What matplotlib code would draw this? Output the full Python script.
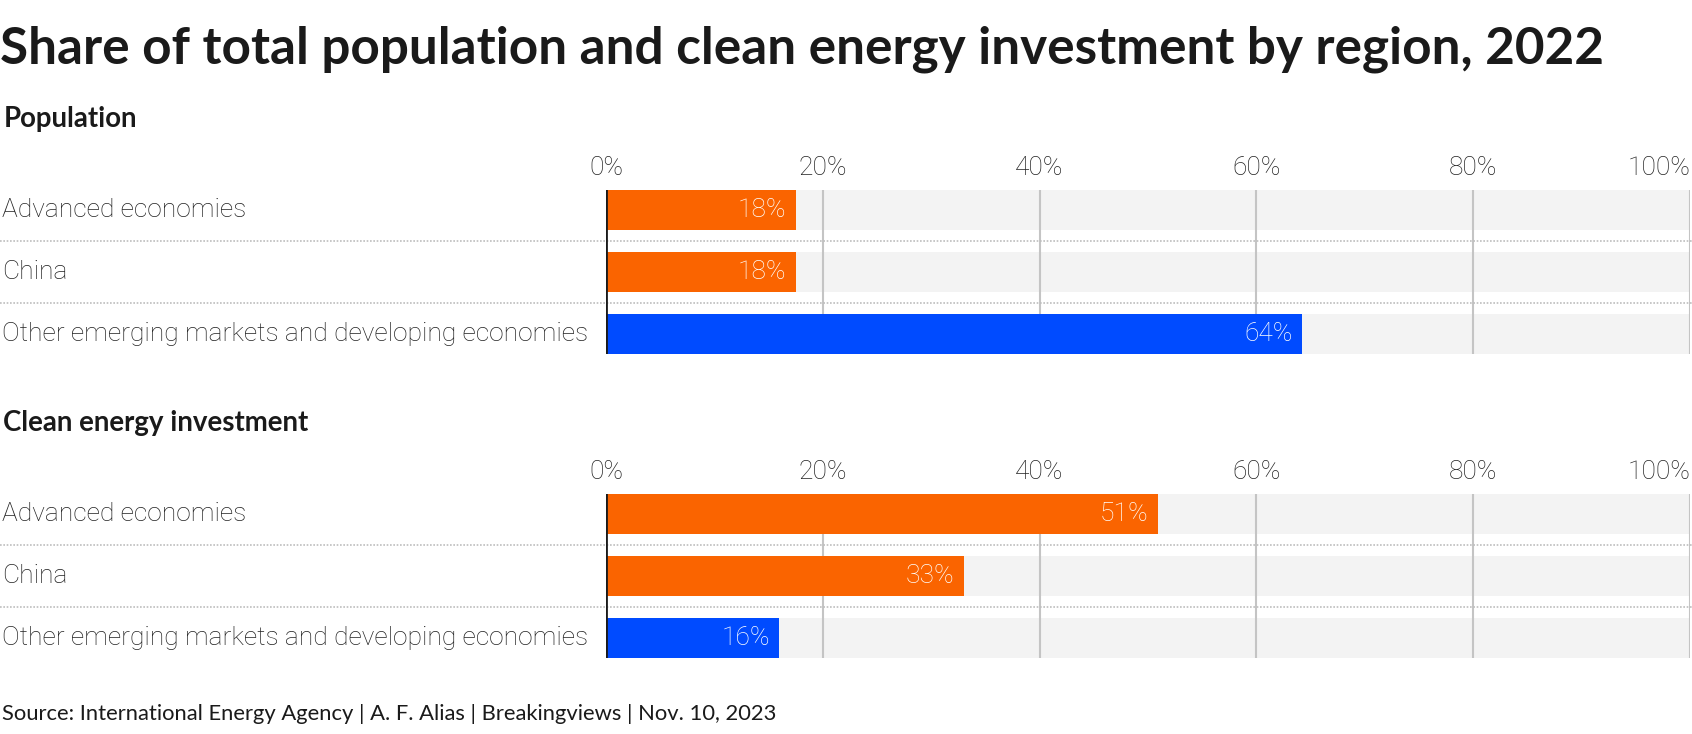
import matplotlib
matplotlib.use("Agg")
import matplotlib.pyplot as plt
from matplotlib.transforms import blended_transform_factory

categories = ["Advanced economies", "China", "Other emerging markets and developing economies"]
population = [17.5, 17.5, 64.2]
clean_energy = [50.9, 33.0, 16.0]
bar_colors = ["#fa6400", "#fa6400", "#004bff"]
ticks = [0, 20, 40, 60, 80, 100]
tick_labels = ["0%", "20%", "40%", "60%", "80%", "100%"]
panels = [("Population", population), ("Clean energy investment", clean_energy)]

W, H = 1692, 734
fig = plt.figure(figsize=(W / 100, H / 100), dpi=100)
BOLD = "Lato"
LIGHT = "Roboto"
LW = "light"
LS = 19

def px_y(y):
    return 1 - y / H

fig.text(0.0, px_y(49), "Share of total population and clean energy investment by region, 2022",
         fontsize=36.9, fontweight="bold", family=BOLD, va="center", ha="left", color="#1a1a1a")

bh = 40 / 62
left = 606 / W
width = (1690 - 606) / W
tops = [190, 494]
sub_y = [119, 423]

for (name, vals), top, sy in zip(panels, tops, sub_y):
    h_px = (2 + bh) * 62
    ax = fig.add_axes([left, px_y(top + h_px), width, h_px / H])
    n = len(categories)
    ys = list(range(n))
    ax.set_xlim(0, 100)
    ax.set_ylim(n - 1 + bh / 2, -bh / 2)
    ax.barh(ys, [100] * n, height=bh, color="#f3f3f3", zorder=0)
    for t in ticks[1:]:
        ax.axvline(t, color="#c4c4c4", lw=1.5, zorder=1)
    ax.barh(ys, vals, height=bh, color=bar_colors, zorder=2)
    ax.axvline(0, color="#1a1a1a", lw=2, zorder=3)
    for y, v in zip(ys, vals):
        ax.text(v - 0.85, y, f"{round(v)}%", color="white", ha="right", va="center",
                fontsize=LS, family=LIGHT, fontweight=LW, zorder=4)
    tr = blended_transform_factory(fig.transFigure, ax.transData)
    for y, c in zip(ys, categories):
        ax.text(0.001, y, c, transform=tr, ha="left", va="center", fontsize=LS,
                family=LIGHT, fontweight=LW, color="#222222")
    for i in range(n - 1):
        ax.plot([0, 1], [i + 0.5, i + 0.5], transform=tr, clip_on=False,
                color="#bdbdbd", lw=1.2, linestyle=(0, (1, 1)), zorder=1)
    ax.set_xticks(ticks)
    ax.set_xticklabels(tick_labels)
    ax.xaxis.tick_top()
    ax.tick_params(axis="x", length=0, pad=7, labelsize=LS, labelcolor="#222222")
    for lab in ax.get_xticklabels():
        lab.set_family(LIGHT)
        lab.set_fontweight(LW)
    ax.get_xticklabels()[-1].set_ha("right")
    ax.set_yticks([])
    for s in ax.spines.values():
        s.set_visible(False)
    fig.text(0.002, px_y(sy), name, fontsize=19.9, fontweight="bold", family=BOLD,
             va="center", ha="left", color="#1a1a1a")

fig.text(0.001, px_y(714), "Source: International Energy Agency | A. F. Alias | Breakingviews | Nov. 10, 2023",
         fontsize=15.8, family=BOLD, va="center", ha="left", color="#1a1a1a")

fig.savefig("out.png", dpi=100)
